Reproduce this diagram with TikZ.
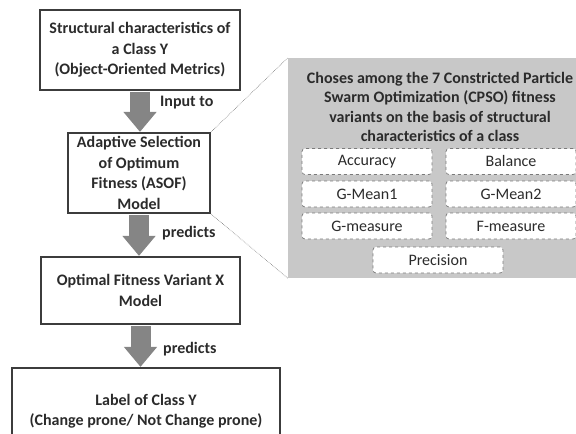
\documentclass[tikz,border=0pt]{standalone}
\usepackage{fontspec}
\setmainfont{Carlito}
\usetikzlibrary{calc,arrows.meta}

\definecolor{inkgray}{HTML}{2B2B2B}
\definecolor{boxgray}{HTML}{3C3C3C}
\definecolor{arrowgray}{HTML}{858585}
\definecolor{panelgray}{HTML}{C8C8C8}
\definecolor{dashgray}{HTML}{7A7A7A}

\begin{document}
\begin{tikzpicture}[
        x=1pt, y=-1pt,
        flow/.style={-{Triangle[width=32pt,length=20pt]}, line width=20pt, draw=arrowgray, shorten <=1.2pt},
    ]
    \clip (0,0) rectangle (576,434);
    % main stages of the flow
    \tikzstyle{stage}=[draw=boxgray, line width=2.2pt, fill=white, align=center, inner sep=0, text=inkgray, font=\bfseries\fontsize{16}{20.5}\selectfont]
    % labels beside the arrows
    \tikzstyle{flowlabel}=[anchor=west, inner sep=0, text=inkgray, font=\bfseries\fontsize{16}{20}\selectfont]
    % fitness variants inside the panel
    \tikzstyle{choice}=[draw=dashgray, dashed, line width=0.7pt, rounded corners=3pt, fill=white, minimum width=130pt, minimum height=26pt, inner sep=0, text=inkgray, font=\fontsize{16}{20}\selectfont]
    \node[stage, minimum width=200pt, minimum height=80pt] (S) at (140,50) {Structural characteristics of\\a Class Y\\(Object-Oriented Metrics)};
    \node[stage, minimum width=142pt, minimum height=80pt] (A) at (139,173) {Adaptive Selection\\of Optimum\\Fitness (ASOF)\\Model};
    \node[stage, minimum width=199pt, minimum height=67pt] (O) at (140.5,290.5) {Optimal Fitness Variant X\\Model};
    \node[stage, minimum width=268pt, minimum height=86pt] (L) at (146,411) {Label of Class Y\\(Change prone/ Not Change prone)};
    \draw[flow] (S.south) -- (S.south |- A.north);
    \draw[flow] (A.south) -- (A.south |- O.north);
    \draw[flow] (O.south) -- (O.south |- L.north);
    \node[flowlabel] (in) at (160,103) {Input to};
    \node[flowlabel] (pr1) at (162,233) {predicts};
    \node[flowlabel] (pr2) at (163,349) {predicts};
    % zoomed panel
    \node[fill=panelgray, minimum width=292pt, minimum height=220pt, inner sep=0] (P) at (434,168) {};
    \draw[dashgray, densely dotted, line width=0.6pt] (A.north east) -- (P.north west);
    \draw[dashgray, densely dotted, line width=0.6pt] (A.south east) -- (P.south west);
    \node[align=center, inner sep=0, text=inkgray, font=\bfseries\fontsize{16}{19.5}\selectfont] (T) at (440,107) {Choses among the 7 Constricted Particle\\Swarm Optimization (CPSO) fitness\\variants on the basis of structural\\characteristics of a class};
    \node[choice] (acc) at (367,161.5) {Accuracy};
    \node[choice] (bal) at ($(acc)+(144,0)$) {Balance};
    \node[choice] (gm1) at ($(acc)+(0,32.5)$) {G-Mean1};
    \node[choice] (gm2) at ($(gm1)+(144,0)$) {G-Mean2};
    \node[choice] (gms) at ($(gm1)+(0,32)$) {G-measure};
    \node[choice] (fms) at ($(gms)+(144,0)$) {F-measure};
    \node[choice] (prec) at ($(gms)+(71,34)$) {Precision};
\end{tikzpicture}
\end{document}
